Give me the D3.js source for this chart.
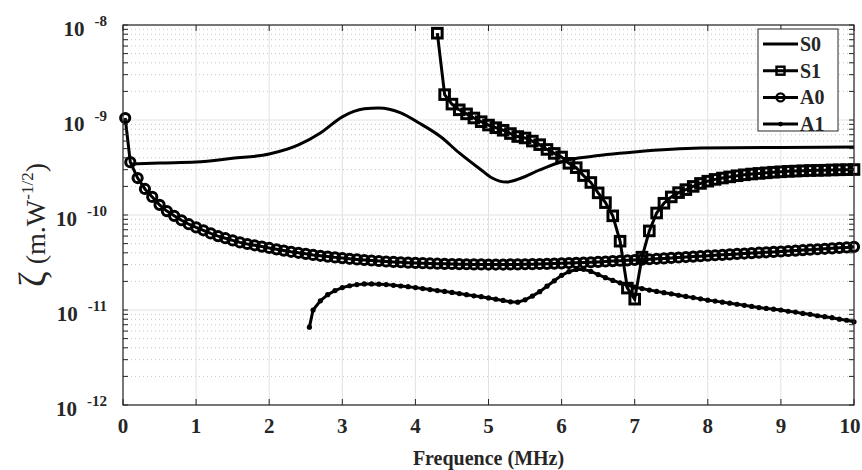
<!DOCTYPE html>
<html>
  <head>
    <meta charset="utf-8" />
    <title>Zeta vs frequence</title>
    <script src="https://d3js.org/d3.v7.min.js"></script>
    <style>
        body {margin: 0; background: #fff;}
        text {font-family: "Liberation Serif", "Times New Roman", serif; fill: #262626;}
    </style>
  </head>
  <body>

    <svg id="chart" width="862" height="470"></svg>

    <script>

        // values are in units of 1e-11 m.W^-1/2
        var UNIT = 1e-11;

        var freq = [0.03, 0.1, 0.2, 0.3, 0.4, 0.5, 0.6, 0.7, 0.8, 0.9,
                    1.0, 1.1, 1.2, 1.3, 1.4, 1.5, 1.6, 1.7, 1.8, 1.9,
                    2.0, 2.1, 2.2, 2.3, 2.4, 2.5, 2.6, 2.7, 2.8, 2.9,
                    3.0, 3.1, 3.2, 3.3, 3.4, 3.5, 3.6, 3.7, 3.8, 3.9,
                    4.0, 4.1, 4.2, 4.3, 4.4, 4.5, 4.6, 4.7, 4.8, 4.9,
                    5.0, 5.1, 5.2, 5.3, 5.4, 5.5, 5.6, 5.7, 5.8, 5.9,
                    6.0, 6.1, 6.2, 6.3, 6.4, 6.5, 6.6, 6.7, 6.8, 6.9,
                    7.0, 7.1, 7.2, 7.3, 7.4, 7.5, 7.6, 7.7, 7.8, 7.9,
                    8.0, 8.1, 8.2, 8.3, 8.4, 8.5, 8.6, 8.7, 8.8, 8.9,
                    9.0, 9.1, 9.2, 9.3, 9.4, 9.5, 9.6, 9.7, 9.8, 9.9, 10.0];

        var freqS0 = [0.1, 0.5, 1.0, 1.5, 2.0, 2.4, 2.7, 3.0, 3.3, 3.5, 3.8, 4.05, 4.35,
                      4.6, 4.9, 5.05, 5.25, 5.45, 5.7, 5.95, 6.1, 6.35, 7.0, 7.9, 9.0, 10.0];
        var S0 = [34.4, 35.3, 36.1, 39.5, 43.8, 54.6, 73, 108, 131, 134, 119, 93, 66.2,
                  45, 29.8, 24.5, 22.2, 24.5, 29.8, 35.3, 38, 40.8, 46.1, 50.7, 51.5, 52];

        // S1 starts at 4.3 MHz
        var freqS1 = freq.slice(43);
        var S1 = [820, 185, 147, 128, 116, 105, 96,
                  88.5, 83, 78, 72, 67, 64.7, 60, 55, 49, 44.5,
                  40.8, 35, 31.5, 26, 22, 17.1, 13.5, 9.8, 5.3, 1.7,
                  1.3, 3.6, 6.8, 10.5, 13.3, 15.5, 17.2, 18.5, 20, 21.5,
                  22.7, 23.7, 24.5, 25.2, 25.9, 26.5, 27, 27.4, 27.8, 28.2,
                  28.5, 28.8, 29, 29.2, 29.4, 29.5, 29.6, 29.8, 29.9, 30, 30.1];

        var A0 = [105, 36, 24.5, 18.8, 15.5, 12.8, 11.0, 9.8, 8.8, 8.0,
                  7.4, 6.9, 6.4, 6.0, 5.7, 5.4, 5.15, 4.95, 4.8, 4.65,
                  4.5, 4.35, 4.22, 4.1, 4.0, 3.9, 3.8, 3.72, 3.65, 3.58,
                  3.52, 3.46, 3.41, 3.36, 3.32, 3.28, 3.24, 3.21, 3.18, 3.15,
                  3.13, 3.11, 3.09, 3.07, 3.06, 3.05, 3.04, 3.03, 3.02, 3.02,
                  3.01, 3.01, 3.01, 3.02, 3.02, 3.03, 3.04, 3.05, 3.06, 3.08,
                  3.10, 3.12, 3.14, 3.16, 3.18, 3.21, 3.24, 3.27, 3.30, 3.33,
                  3.36, 3.39, 3.42, 3.46, 3.49, 3.53, 3.57, 3.61, 3.65, 3.69,
                  3.73, 3.77, 3.81, 3.85, 3.89, 3.93, 3.97, 4.01, 4.05, 4.09,
                  4.13, 4.18, 4.22, 4.27, 4.31, 4.36, 4.41, 4.46, 4.51, 4.56, 4.62];

        // A1 starts at 2.55 MHz
        var freqA1 = [2.55].concat(freq.slice(26));
        var A1 = [0.66, 1.0, 1.25, 1.45, 1.6,
                  1.72, 1.8, 1.85, 1.88, 1.88, 1.87, 1.85, 1.82, 1.79, 1.76,
                  1.72, 1.68, 1.64, 1.60, 1.57, 1.53, 1.49, 1.45, 1.41, 1.38,
                  1.34, 1.30, 1.26, 1.22, 1.21, 1.28, 1.40, 1.56, 1.78, 2.03,
                  2.32, 2.53, 2.67, 2.68, 2.55, 2.36, 2.19, 2.05, 1.93, 1.82,
                  1.74, 1.68, 1.62, 1.57, 1.52, 1.48, 1.43, 1.39, 1.35, 1.31,
                  1.27, 1.24, 1.21, 1.18, 1.15, 1.12, 1.09, 1.06, 1.04, 1.02,
                  1.0, 0.97, 0.95, 0.92, 0.90, 0.87, 0.85, 0.83, 0.80, 0.78, 0.75];

        var xTicks = [0, 1, 2, 3, 4, 5, 6, 7, 8, 9, 10];
        var yExponents = [-8, -9, -10, -11, -12];
        var seriesNames = ["S0", "S1", "A0", "A1"];

        var svg = d3.select("#chart");
        var pLeft = 123, pRight = 854, pTop = 25, pBottom = 405;

        var x = d3.scaleLinear().domain([0, 10]).range([pLeft, pRight]);
        var y = d3.scaleLog().domain([1e-12, 1e-8]).range([pBottom, pTop]);

        function toPoints(fs, vs) {
            return vs.map(function(v, i){ return [fs[i], v * UNIT]; });
        }

        // minor y values (2..9 per decade)
        var minorY = [];
        yExponents.slice(1).forEach(function(e){
            for (var k = 2; k <= 9; k++) minorY.push(k * Math.pow(10, e));
        });

        // grid
        var grid = svg.append("g");
        grid.selectAll(".minor").data(minorY).enter().append("line")
            .attr("x1", pLeft).attr("x2", pRight)
            .attr("y1", function(d){ return y(d); })
            .attr("y2", function(d){ return y(d); })
            .attr("stroke", "#c4c4c4").attr("stroke-width", 1)
            .attr("stroke-dasharray", "1,3");
        grid.selectAll(".vx").data(xTicks).enter().append("line")
            .attr("x1", function(d){ return x(d); })
            .attr("x2", function(d){ return x(d); })
            .attr("y1", pTop).attr("y2", pBottom)
            .attr("stroke", "#e2e2e2").attr("stroke-width", 1);
        grid.selectAll(".hy").data(yExponents).enter().append("line")
            .attr("x1", pLeft).attr("x2", pRight)
            .attr("y1", function(d){ return y(Math.pow(10, d)); })
            .attr("y2", function(d){ return y(Math.pow(10, d)); })
            .attr("stroke", "#e2e2e2").attr("stroke-width", 1);

        var line = d3.line()
            .x(function(d){ return x(d[0]); })
            .y(function(d){ return y(d[1]); });

        var plot = svg.append("g");

        // S0 - smooth solid line
        plot.append("path")
            .datum(toPoints(freqS0, S0))
            .attr("d", line.curve(d3.curveMonotoneX))
            .attr("fill", "none").attr("stroke", "#000").attr("stroke-width", 3);
        line.curve(d3.curveLinear);

        // A0 - circles
        var a0 = toPoints(freq, A0);
        plot.append("path").datum(a0).attr("d", line)
            .attr("fill", "none").attr("stroke", "#000").attr("stroke-width", 3);
        plot.selectAll(".a0").data(a0).enter().append("circle")
            .attr("cx", function(d){ return x(d[0]); })
            .attr("cy", function(d){ return y(d[1]); })
            .attr("r", 4.6)
            .attr("fill", "none").attr("stroke", "#000").attr("stroke-width", 3);

        // A1 - dots
        var a1 = toPoints(freqA1, A1);
        plot.append("path").datum(a1).attr("d", line)
            .attr("fill", "none").attr("stroke", "#000").attr("stroke-width", 3);
        plot.selectAll(".a1").data(a1).enter().append("circle")
            .attr("cx", function(d){ return x(d[0]); })
            .attr("cy", function(d){ return y(d[1]); })
            .attr("r", 2.6).attr("fill", "#000");

        // S1 - squares
        var s1 = toPoints(freqS1, S1);
        plot.append("path").datum(s1).attr("d", line)
            .attr("fill", "none").attr("stroke", "#000").attr("stroke-width", 3);
        plot.selectAll(".s1").data(s1).enter().append("rect")
            .attr("x", function(d){ return x(d[0]) - 4.8; })
            .attr("y", function(d){ return y(d[1]) - 4.8; })
            .attr("width", 9.6).attr("height", 9.6)
            .attr("fill", "none").attr("stroke", "#000").attr("stroke-width", 3);

        // axis box and ticks
        var axes = svg.append("g").attr("stroke", "#262626");
        axes.append("rect")
            .attr("x", pLeft).attr("y", pTop)
            .attr("width", pRight - pLeft).attr("height", pBottom - pTop)
            .attr("fill", "none").attr("stroke-width", 1.2);

        xTicks.forEach(function(t){
            axes.append("line").attr("x1", x(t)).attr("x2", x(t))
                .attr("y1", pBottom).attr("y2", pBottom - 6);
            axes.append("line").attr("x1", x(t)).attr("x2", x(t))
                .attr("y1", pTop).attr("y2", pTop + 6);
        });
        minorY.concat(yExponents.map(function(e){ return Math.pow(10, e); })).forEach(function(v){
            var len = 5;
            axes.append("line").attr("x1", pLeft).attr("x2", pLeft + len)
                .attr("y1", y(v)).attr("y2", y(v));
            axes.append("line").attr("x1", pRight).attr("x2", pRight - len)
                .attr("y1", y(v)).attr("y2", y(v));
        });

        // x tick labels
        svg.selectAll(".xl").data(xTicks).enter().append("text")
            .attr("x", function(d){ return d === 10 ? x(d) - 4 : x(d); })
            .attr("y", 433)
            .attr("text-anchor", "middle")
            .attr("font-weight", "bold").attr("font-size", 21)
            .text(function(d){ return d; });

        // y tick labels: 10 with superscript exponent
        yExponents.forEach(function(e){
            var yy = y(Math.pow(10, e));
            var sup = svg.append("text")
                .attr("x", 107).attr("y", yy + 1)
                .attr("text-anchor", "end")
                .attr("font-weight", "bold").attr("font-size", 15)
                .text(e);
            var w = sup.node().getComputedTextLength();
            svg.append("text")
                .attr("x", 107 - w - 10).attr("y", yy + 11)
                .attr("text-anchor", "end")
                .attr("font-weight", "bold").attr("font-size", 21)
                .text("10");
        });

        // axis titles
        svg.append("text")
            .attr("x", (pLeft + pRight) / 2).attr("y", 465)
            .attr("text-anchor", "middle")
            .attr("font-weight", "bold").attr("font-size", 20)
            .text("Frequence (MHz)");

        var yt = svg.append("text")
            .attr("transform", "translate(45,225) rotate(-90)")
            .attr("text-anchor", "middle")
            .attr("font-size", 28);
        yt.append("tspan").attr("font-size", 38).text("ζ");
        yt.append("tspan").text(" (m.W");
        yt.append("tspan").attr("font-size", 17).attr("dy", -12).text("-1/2");
        yt.append("tspan").attr("dy", 12).text(")");

        // legend
        var lg = svg.append("g");
        lg.append("rect")
            .attr("x", 758).attr("y", 29).attr("width", 80).attr("height", 102)
            .attr("fill", "#fff").attr("stroke", "#262626").attr("stroke-width", 1);
        seriesNames.forEach(function(name, i){
            var ly = 44 + i * 26.7;
            lg.append("line").attr("x1", 763).attr("x2", 798)
                .attr("y1", ly).attr("y2", ly)
                .attr("stroke", "#000").attr("stroke-width", 3);
            if (name === "S1") {
                lg.append("rect").attr("x", 776.5).attr("y", ly - 4)
                    .attr("width", 8).attr("height", 8)
                    .attr("fill", "none").attr("stroke", "#000").attr("stroke-width", 2.4);
            } else if (name === "A0") {
                lg.append("circle").attr("cx", 780.5).attr("cy", ly).attr("r", 4)
                    .attr("fill", "none").attr("stroke", "#000").attr("stroke-width", 2.4);
            } else if (name === "A1") {
                lg.append("circle").attr("cx", 780.5).attr("cy", ly).attr("r", 2.4)
                    .attr("fill", "#000");
            }
            lg.append("text").attr("x", 800).attr("y", ly + 7)
                .attr("font-weight", "bold").attr("font-size", 20)
                .text(name);
        });

    </script>

  </body>
</html>
